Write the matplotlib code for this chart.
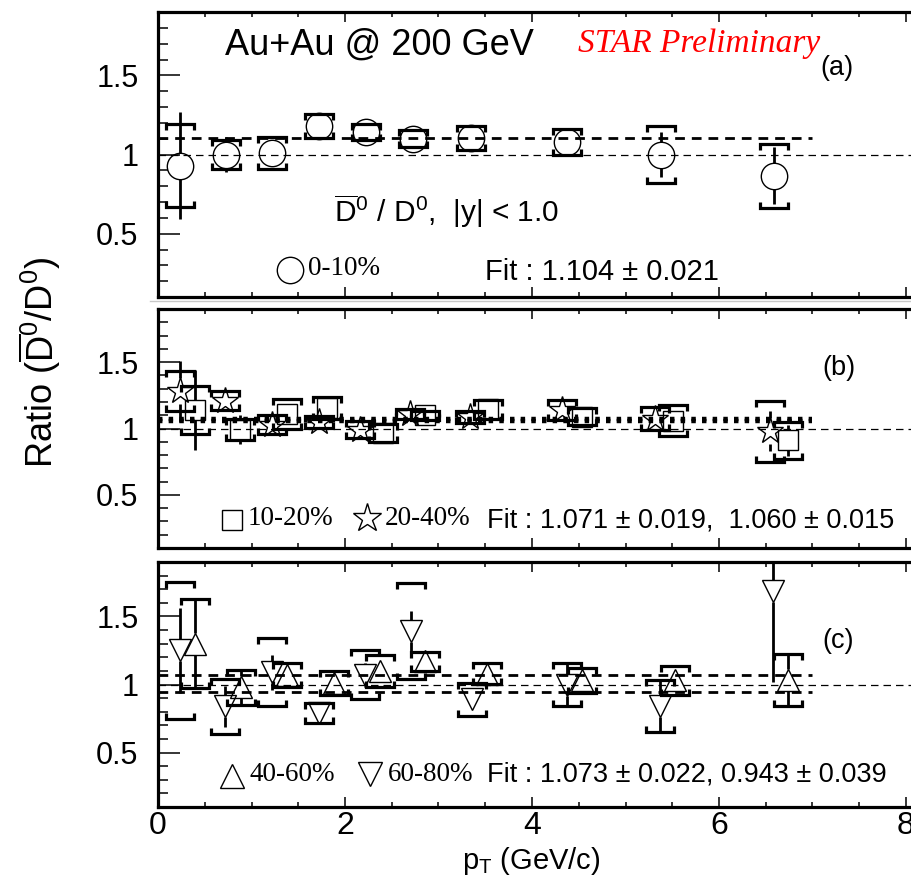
import numpy as np
import matplotlib.pyplot as plt
from matplotlib.lines import Line2D
from matplotlib.ticker import MultipleLocator, FuncFormatter

plt.rcParams['font.family'] = 'Liberation Sans'
plt.rcParams['mathtext.fontset'] = 'custom'
plt.rcParams['mathtext.rm'] = 'Liberation Sans'
plt.rcParams['mathtext.it'] = 'Liberation Sans:italic'

nan = float('nan')

# (a) 0-10%
pt_a = [0.24, 0.73, 1.22, 1.72, 2.22, 2.73, 3.35, 4.37, 5.38, 6.59]
r_a = [0.93, 1.00, 1.01, 1.18, 1.14, 1.10, 1.105, 1.08, 1.00, 0.865]
stat_a = [0.34, 0.11, 0.07, 0.06, 0.05, 0.05, 0.06, 0.07, 0.14, 0.18]
sys_a = [0.26, 0.09, 0.10, 0.077, 0.05, 0.053, 0.078, 0.08, 0.18, 0.20]
fit_a = [1.104]

# (b) 10-20% (squares) and 20-40% (stars)
pt_b10 = [0.40, 0.88, 1.38, 1.81, 2.41, 2.86, 3.53, 4.53, 5.51, 6.74]
r_b10 = [1.14, 0.99, 1.11, 1.155, 0.965, 1.10, 1.145, 1.09, 1.06, 0.91]
stat_b10 = [0.30, 0.11, 0.05, 0.05, 0.05, 0.04, 0.05, 0.05, 0.07, 0.12]
sys_b10 = [0.18, 0.08, 0.11, 0.08, 0.07, 0.035, 0.07, 0.063, 0.12, 0.14]

pt_b20 = [0.235, 0.72, 1.22, 1.72, 2.16, 2.70, 3.34, 4.32, 5.32, 6.55]
r_b20 = [1.28, 1.21, 1.03, 1.05, 0.99, 1.11, 1.09, 1.14, 1.075, 0.98]
stat_b20 = [0.23, 0.06, 0.07, 0.06, 0.10, 0.05, 0.05, 0.06, 0.08, 0.15]
sys_b20 = [0.15, 0.07, 0.07, 0.045, 0.065, 0.04, 0.045, 0.075, 0.09, 0.23]
fit_b = [1.071, 1.060]

# (c) 40-60% (up triangles) and 60-80% (down triangles)
pt_c40 = [0.40, 0.89, 1.38, 1.88, 2.37, 2.86, 3.52, 4.53, 5.53, 6.74]
r_c40 = [1.30, 0.98, 1.07, 1.01, 1.10, 1.17, 1.08, 1.03, 1.03, 1.035]
stat_c40 = [0.325, 0.12, 0.06, 0.06, 0.07, 0.05, 0.05, 0.06, 0.08, 0.19]
sys_c40 = [0.325, 0.13, 0.086, 0.088, 0.116, 0.07, 0.076, 0.09, 0.107, 0.19]

pt_c60 = [0.235, 0.72, 1.22, 1.72, 2.21, 2.71, 3.36, 4.37, 5.37, 6.58]
r_c60 = [1.25, 0.84, 1.09, 0.79, 1.07, 1.39, 0.89, 1.00, 0.84, 1.69]
stat_c60 = [0.31, 0.15, 0.13, 0.05, 0.09, 0.15, 0.08, 0.16, 0.19, 0.67]
sys_c60 = [0.50, 0.20, 0.25, 0.074, 0.18, 0.353, 0.123, 0.16, 0.19, nan]
fit_c = [1.073, 0.943]

fit_range = (0.0, 7.0)

W, H = 912.0, 882.0
X0 = 158.0          # pixel column of pT = 0
PX_PER_GEV = 93.5

fig = plt.figure(figsize=(W / 100, H / 100), dpi=100)


def make_panel(top, bottom, show_xlabels):
    ax = fig.add_axes([X0 / W, 1 - bottom / H, 1 - X0 / W, (bottom - top) / H])
    ax.set_xlim(0, (W - X0) / PX_PER_GEV)
    ax.set_ylim(0.1, 1.9)
    ax.xaxis.set_major_locator(MultipleLocator(2))
    ax.xaxis.set_minor_locator(MultipleLocator(0.5))
    ax.yaxis.set_major_locator(MultipleLocator(0.5))
    ax.yaxis.set_minor_locator(MultipleLocator(0.1))
    ax.yaxis.set_major_formatter(FuncFormatter(lambda v, p: f'{v:g}'))
    ax.tick_params(which='both', direction='in', top=True, right=False, width=1.1)
    ax.tick_params(axis='y', which='major', length=16, labelsize=22, pad=14)
    ax.tick_params(axis='y', which='minor', length=7.5)
    ax.tick_params(axis='x', which='major', length=7.5, labelsize=23, pad=3)
    ax.tick_params(axis='x', which='minor', length=3.8)
    if not show_xlabels:
        ax.tick_params(axis='x', labelbottom=False)
    ax.spines['right'].set_visible(False)
    for s in ('left', 'top', 'bottom'):
        ax.spines[s].set_linewidth(2.3)
    ax.axhline(1.0, color='k', lw=0.9, ls=(0, (6, 4)))
    return ax


def px_to_dy(ax, px):
    # vertical data distance covered by px pixels on this panel
    y0 = ax.transData.transform((0, 1.0))[1]
    return 1.0 - ax.transData.inverted().transform((0, y0 - px))[1]


def draw_series(ax, x, y, stat, sys, marker, ms, half_px):
    tip = px_to_dy(ax, 6)
    gap = px_to_dy(ax, half_px)
    hw = 0.15
    for xi, yi, st, sy in zip(x, y, stat, sys):
        if not np.isnan(sy):
            for sgn in (1, -1):
                yb = yi + sgn * sy
                ax.plot([xi - hw, xi - hw, xi + hw, xi + hw],
                        [yb - sgn * tip, yb, yb, yb - sgn * tip],
                        color='k', lw=2.3, solid_joinstyle='miter',
                        solid_capstyle='butt')
        if st > gap:
            ax.vlines([xi, xi], [yi + gap, yi - st], [yi + st, yi - gap],
                      color='k', lw=2.0)
    ax.plot(x, y, ls='none', marker=marker, ms=ms, mfc='none', mec='k',
            mew=1.0)


def draw_fits(ax, values, style, lw):
    for v in values:
        ax.plot(fit_range, [v, v], color='k', lw=lw, ls=style)


def legend_key(ax, x, y, marker, ms):
    ax.plot([x], [y], transform=ax.transAxes, ls='none', marker=marker, ms=ms,
            mfc='none', mec='k', mew=1.0, clip_on=False)


serif = dict(family='Liberation Serif', fontsize=19.5, va='center')
sans = dict(fontsize=19.5, va='center')

# panel (a)
ax_a = make_panel(12, 297, False)
draw_fits(ax_a, fit_a, (0, (3.5, 2.5)), 2.0)
draw_series(ax_a, pt_a, r_a, stat_a, sys_a, 'o', 19, 13)
ax_a.text(0.089, 0.884, 'Au+Au @ 200 GeV', transform=ax_a.transAxes,
          fontsize=26, va='center')
ax_a.text(0.557, 0.887, 'STAR Preliminary', transform=ax_a.transAxes,
          family='Liberation Serif', style='italic', color='#ff0000',
          fontsize=24, va='center')
ax_a.text(0.878, 0.804, '(a)', transform=ax_a.transAxes, fontsize=19.5,
          va='center')
ax_a.text(0.233, 0.300,
          r'$\overline{\mathrm{D}}^{0}$ / D$^{0}$,  |y| < 1.0',
          transform=ax_a.transAxes, fontsize=21.5, va='center')
legend_key(ax_a, 0.175, 0.095, 'o', 19)
ax_a.text(0.199, 0.100, '0-10%', transform=ax_a.transAxes, **serif)
ax_a.text(0.434, 0.088, 'Fit : 1.104 \u00b1 0.021', transform=ax_a.transAxes,
          fontsize=21, va='center')

# panel (b)
ax_b = make_panel(309, 548, False)
draw_fits(ax_b, fit_b, (0, (1, 1.4)), 3.2)
draw_series(ax_b, pt_b20, r_b20, stat_b20, sys_b20, '*', 20, 13)
draw_series(ax_b, pt_b10, r_b10, stat_b10, sys_b10, 's', 14.5, 10)
ax_b.text(0.881, 0.753, '(b)', transform=ax_b.transAxes, fontsize=19.5,
          va='center')
legend_key(ax_b, 0.098, 0.117, 's', 14.5)
ax_b.text(0.119, 0.124, '10-20%', transform=ax_b.transAxes, **serif)
legend_key(ax_b, 0.277, 0.125, '*', 21)
ax_b.text(0.301, 0.124, '20-40%', transform=ax_b.transAxes, **serif)
ax_b.text(0.436, 0.117, 'Fit : 1.071 \u00b1 0.019,  1.060 \u00b1 0.015',
          transform=ax_b.transAxes, **sans)

# panel (c)
ax_c = make_panel(562, 807, True)
draw_fits(ax_c, fit_c, (0, (3.5, 2.5)), 2.0)
draw_series(ax_c, pt_c60, r_c60, stat_c60, sys_c60, 'v', 16, 11)
draw_series(ax_c, pt_c40, r_c40, stat_c40, sys_c40, '^', 16, 11)
ax_c.text(0.881, 0.678, '(c)', transform=ax_c.transAxes, fontsize=19.5,
          va='center')
legend_key(ax_c, 0.098, 0.127, '^', 17.5)
ax_c.text(0.122, 0.133, '40-60%', transform=ax_c.transAxes, **serif)
legend_key(ax_c, 0.281, 0.135, 'v', 17.5)
ax_c.text(0.305, 0.133, '60-80%', transform=ax_c.transAxes, **serif)
ax_c.text(0.436, 0.131, 'Fit : 1.073 \u00b1 0.022, 0.943 \u00b1 0.039',
          transform=ax_c.transAxes, **sans)

# axis titles
fig.text(40 / W, 1 - 362 / H, r'Ratio ($\overline{\mathrm{D}}^{0}$/D$^{0}$)',
         rotation=90, ha='center', va='center', fontsize=26)
fig.text(531 / W, 1 - 861 / H, r'p$_{\mathrm{T}}$ (GeV/c)', ha='center',
         va='center', fontsize=21)

# thin grey rule between the upper panels
fig.add_artist(Line2D([0.165, 1.0], [1 - 300.5 / H] * 2, color='#c8c8c8',
                      lw=1.0))

fig.savefig('out.png', dpi=100)
